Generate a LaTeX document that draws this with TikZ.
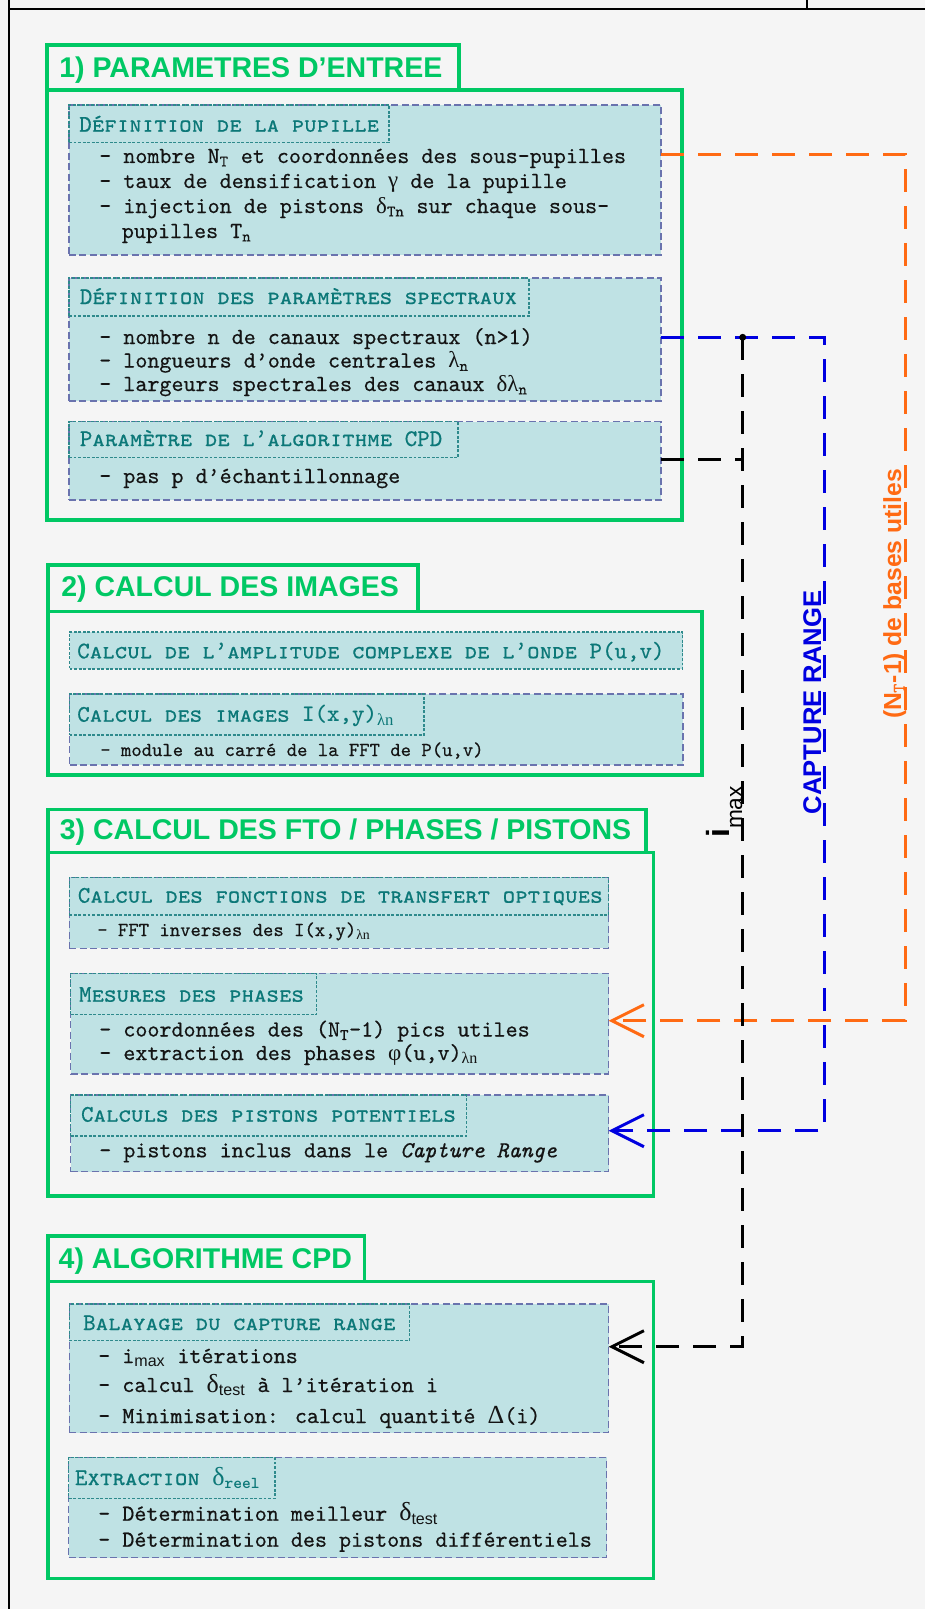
\documentclass[tikz,border=0pt]{standalone}
\usepackage{fontspec}
\newfontfamily\sansfont{Liberation Sans}
\newfontfamily\grk{Liberation Serif}
\newfontfamily\bodytt{lmmono10-regular}[Extension=.otf, ItalicFont=lmmono10-italic, BoldFont=lmmonolt10-bold, UprightFeatures={FakeBold=0.45}, ItalicFeatures={FakeBold=0.45}]
\newfontfamily\captt{lmmonocaps10-regular}[Extension=.otf, FakeBold=0.5]
\usetikzlibrary{arrows.meta,fit}
\definecolor{bgc}{HTML}{F5F5F5}
\definecolor{grn}{HTML}{00C864}
\definecolor{fillc}{HTML}{BFE2E4}
\definecolor{slate}{HTML}{6A73AE}
\definecolor{tealb}{HTML}{2E8A8C}
\definecolor{tealtxt}{HTML}{0C7878}
\definecolor{orng}{HTML}{FF6A13}
\definecolor{blu}{HTML}{0000E0}
\definecolor{txtc}{HTML}{141414}
\newcommand\bodyfnt{\bodytt\fontsize{17.2}{20}\selectfont}
\newcommand\smallfnt{\bodytt\fontsize{14.8}{17}\selectfont}
\newcommand\hdfnt{\captt\fontsize{17.85}{20}\selectfont}
\newcommand\hdup{\bodytt\fontsize{17.85}{20}\selectfont}
\newcommand\ttlfnt{\sansfont\bfseries\fontsize{21.4}{24}\selectfont}
\newcommand\gk[1]{{\grk #1}}
\newcommand\gkb[1]{{\grk\fontsize{19.5}{20}\selectfont #1}}
\newcommand\sbs[1]{\textsubscript{#1}}
\tikzset{
  secbox/.style={draw=grn, line width=2.6pt, inner sep=0pt, outer sep=0pt},
  itembox/.style={draw=slate, fill=fillc, line width=0.9pt, dash pattern=on 5.25pt off 2.6pt, inner sep=0pt, outer sep=0pt},
  hdbox/.style={draw=tealb, line width=0.9pt, dash pattern=on 2.2pt off 1.2pt, inner sep=0pt, outer sep=0pt},
  ln/.style={anchor=base west, inner sep=0pt, font=\bodyfnt, text=txtc},
  lns/.style={anchor=base west, inner sep=0pt, font=\smallfnt, text=txtc},
  hd/.style={anchor=base west, inner sep=0pt, font=\hdfnt, text=tealtxt},
  ttl/.style={anchor=base west, inner sep=0pt, font=\ttlfnt, text=grn},
  conn/.style={line width=2.25pt, dash pattern=on 17.25pt off 10.5pt},
  arr/.style={-{Straight Barb[length=24pt,width=24pt]}},
  vlabel/.style={rotate=90, anchor=base, inner sep=0pt},
}
\begin{document}
\begin{tikzpicture}[x=0.75pt,y=-0.75pt]
\useasboundingbox (0,0) rectangle (925,1609);
\fill[bgc] (0,0) rectangle (925,1609);
% outer frame
\draw[line width=2pt] (9,0) -- (9,1609);
\draw[line width=2pt] (9,9) -- (925,9);
\draw[line width=1.5pt] (807,0) -- (807,9);

% ===== Section 1 =====
\node[secbox, fit={(47,90)(682,520)}] (s1) {};
\node[secbox, fit={(47,45)(459,90)}] (s1t) {};
\node[ttl] (s1tx) at (59,77.5) {1) PARAMETRES D’ENTREE};

\node[itembox, fit={(69,105)(661,255)}] (pup) {};
\node[hdbox, fit={(69,105)(389,142.7)}] (puph) {};
\node[hd] (puphx) at (79,131.7) {Définition de la pupille};
\node[ln] (p1) at (99,163) {- nombre N\sbs{T} et coordonnées des sous-pupilles};
\node[ln] (p2) at (99,188) {- taux de densification \gk{γ} de la pupille};
\node[ln] (p3) at (99,213) {- injection de pistons \gk{δ}\sbs{Tn} sur chaque sous-};
\node[ln] (p4) at (121.6,238) {pupilles T\sbs{n}};

\node[itembox, fit={(69,278)(661,401)}] (spe) {};
\node[hdbox, fit={(69,278)(529,316)}] (speh) {};
\node[hd] (spehx) at (79.6,304) {Définition des paramètres spectraux};
\node[ln] (q1) at (99,344) {- nombre n de canaux spectraux (n>1)};
\node[ln] (q2) at (99,367.5) {- longueurs d’onde centrales \gk{λ}\sbs{n}};
\node[ln] (q3) at (99,391) {- largeurs spectrales des canaux \gk{δλ}\sbs{n}};

\node[itembox, fit={(69,421.7)(661,500)}] (par) {};
\node[hdbox, fit={(69,421.7)(458,457.7)}] (parh) {};
\node[hd] (parhx) at (79.6,446) {Paramètre de l’algorithme CPD};
\node[ln] (r1) at (99,483) {- pas p d’échantillonnage};

% ===== Section 2 =====
\node[secbox, fit={(48,611.7)(702,775)}] (s2) {};
\node[secbox, fit={(48,565)(418,611.7)}] (s2t) {};
\node[ttl] (s2tx) at (61,596) {2) CALCUL DES IMAGES};

\node[itembox, hdbox, fill=fillc, fit={(69.5,632)(682.5,669)}] (amp) {};
\node[hd] (ampx) at (77,658.3) {Calcul de l’amplitude complexe de l’onde {\hdup P(u,v)}};

\node[itembox, fit={(69.5,694)(683,765)}] (img) {};
\node[hdbox, fit={(69.5,694)(424,735)}] (imgh) {};
\node[hd] (imghx) at (77,721.7) {Calcul des images {\hdup\bfseries I(x,y)}\sbs{\grk λn}};
\node[lns] (i1) at (100,756) {- module au carré de la FFT de P(u,v)};

% ===== Section 3 =====
\node[secbox, fit={(48,852.7)(653.5,1196)}] (s3) {};
\node[secbox, fit={(48,809.3)(646,852.7)}] (s3t) {};
\node[ttl] (s3tx) at (59.6,839.3) {3) CALCUL DES FTO / PHASES / PISTONS};

\node[itembox, fit={(69.4,877.3)(608.6,948.3)}] (fto) {};
\node[hdbox, fit={(69.4,877.3)(608.6,915)}] (ftoh) {};
\node[hd] (ftohx) at (77.6,902.7) {Calcul des fonctions de transfert optiques};
\node[lns] (f1) at (97,936) {- FFT inverses des I(x,y)\sbs{\grk λn}};

\node[itembox, fit={(70.6,973.3)(608.6,1074)}] (mes) {};
\node[hdbox, fit={(70.6,973.3)(316.7,1014.3)}] (mesh) {};
\node[hd] (meshx) at (78.8,1001.7) {Mesures des phases};
\node[ln] (m1) at (99,1036.5) {- coordonnées des (N\sbs{T}-1) pics utiles};
\node[ln] (m2) at (99,1060) {- extraction des phases \gk{φ}(u,v)\sbs{\grk λn}};

\node[itembox, fit={(70.6,1095)(608.6,1171.7)}] (pis) {};
\node[hdbox, fit={(70.6,1095)(466.5,1136)}] (pish) {};
\node[hd] (pishx) at (80.8,1121.7) {Calculs des pistons potentiels};
\node[ln] (c1) at (99,1157.3) {- pistons inclus dans le \textit{Capture Range}};

% ===== Section 4 =====
\node[secbox, fit={(48.2,1281.7)(653.5,1578.3)}] (s4) {};
\node[secbox, fit={(48.2,1236)(364.5,1281.7)}] (s4t) {};
\node[ttl] (s4tx) at (58.4,1268.3) {4) ALGORITHME CPD};

\node[itembox, fit={(69.4,1304)(608.6,1432.7)}] (bal) {};
\node[hdbox, fit={(69.4,1304)(409.4,1340.7)}] (balh) {};
\node[hd] (balhx) at (82.9,1330) {Balayage du capture range};
\node[ln] (b1) at (98,1363) {- i\sbs{\sansfont max} itérations};
\node[ln] (b2) at (98,1392) {- calcul \gkb{δ}\sbs{\sansfont test} à l’itération i};
\node[ln] (b3) at (98,1423) {- Minimisation: calcul quantité \gkb{Δ}(i)};

\node[itembox, fit={(68.6,1457.3)(606.5,1557.7)}] (ext) {};
\node[hdbox, fit={(68.6,1457.3)(275,1498.3)}] (exth) {};
\node[hd] (exthx) at (74.7,1485) {Extraction \gkb{δ}\sbs{\bodytt\bfseries reel}};
\node[ln] (e1) at (98,1520.7) {- Détermination meilleur \gkb{δ}\sbs{\sansfont test}};
\node[ln] (e2) at (98,1546.7) {- Détermination des pistons différentiels};

% ===== Connectors =====
\coordinate (o1) at (905,154.3);
\coordinate (o2) at (905,1020.7);
\draw[conn, orng, arr] (pup.east |- o1) -- (o1) -- (o2) -- (mes.east |- o2);

\coordinate (u1) at (824,337.3);
\coordinate (u2) at (824,1130.7);
\draw[conn, blu, arr] (spe.east |- u1) -- (u1) -- (u2) -- (pis.east |- u2);

\coordinate (bd) at (742.7,337.3);
\coordinate (bp) at (742.7,459.3);
\coordinate (bc) at (742.7,1346.7);
\draw[conn, black] (par.east |- bp) -- (bp);
\draw[conn, black, arr] (bd) -- (bc) -- (bal.east |- bc);
\fill[black] (bd) circle[radius=2.6pt];

% ===== Labels =====
\node[vlabel, font={\sansfont\bfseries\fontsize{19.2}{20}\selectfont}, text=blu] (cr) at (821,702.5) {CAPTURE RANGE};
\node[vlabel, font={\sansfont\bfseries\fontsize{18.5}{20}\selectfont}, text=orng] (nb) at (901,594) {(N\sbs{\bodytt\mdseries T}-1) de bases utiles};
\node[vlabel] (im) at (729,812) {\sansfont\bfseries\fontsize{24}{24}\selectfont i\raisebox{-9.75pt}{\mdseries\fontsize{17}{17}\selectfont max}};
\end{tikzpicture}
\end{document}
